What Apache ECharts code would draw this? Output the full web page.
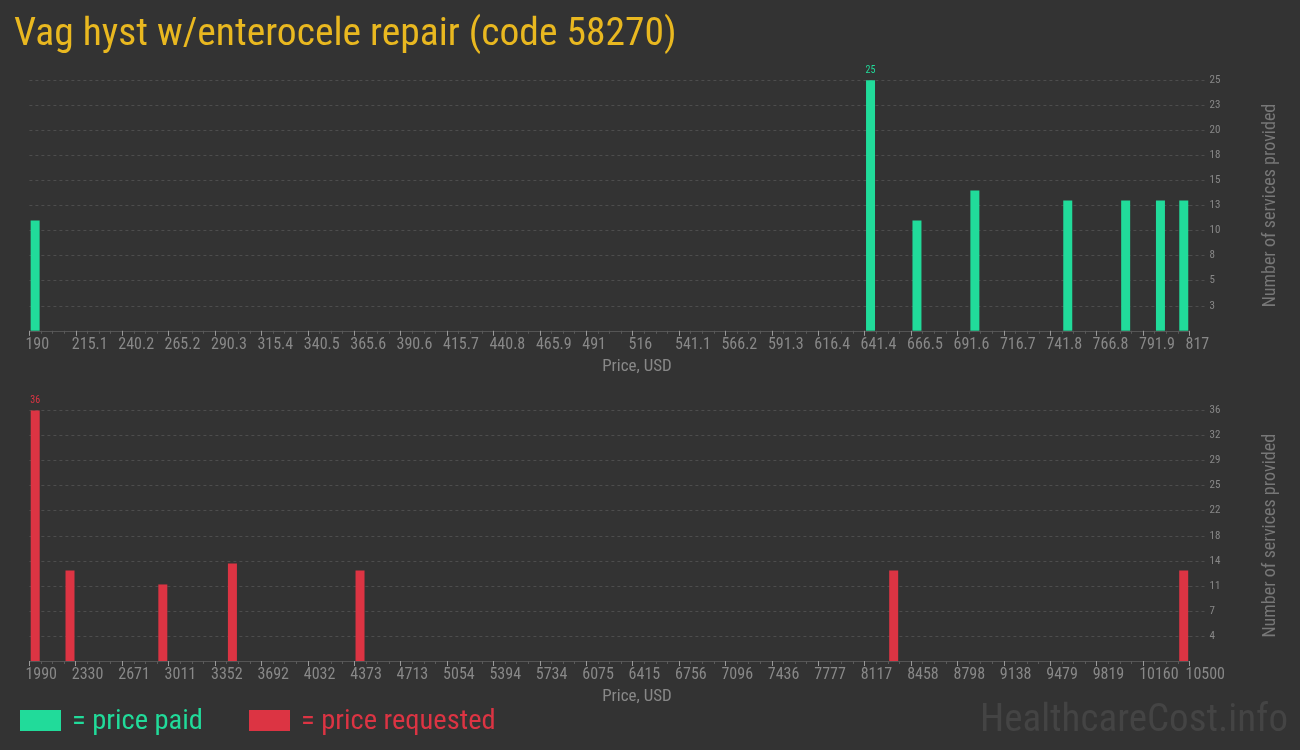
<!DOCTYPE html>
<html>
<head>
<meta charset="utf-8">
<script src="https://cdn.jsdelivr.net/npm/echarts@6/dist/echarts.min.js"></script>
<style>
  html, body { margin: 0; padding: 0; background: #333333; }
  #chart { width: 1300px; height: 750px; }
</style>
</head>
<body>
<div id="chart"></div>
<script>
// ---- data ----
const titleText = 'Vag hyst w/enterocele repair (code 58270)';

const paidTickLabels = ['190','215.1','240.2','265.2','290.3','315.4','340.5','365.6','390.6','415.7','440.8','465.9','491','516','541.1','566.2','591.3','616.4','641.4','666.5','691.6','716.7','741.8','766.8','791.9','817'];
const paidPrices = [193.1, 644.6, 669.7, 701.0, 751.2, 782.5, 801.3, 813.9];
const paidCounts = [11, 25, 11, 14, 13, 13, 13, 13];
const paidYMax = 25;
const paidYStep = 2.5;

const reqTickLabels = ['1990','2330','2671','3011','3352','3692','4032','4373','4713','5054','5394','5734','6075','6415','6756','7096','7436','7777','8117','8458','8798','9138','9479','9819','10160','10500'];
const reqPrices = [2032.6, 2287.9, 2968.7, 3479.3, 4415.4, 8330.0, 10457.4];
const reqCounts = [36, 13, 11, 14, 13, 13, 13];
const reqYMax = 36;
const reqYStep = 3.6;

// ---- styling ----
const BG = '#333333';
const GREEN = '#21db9a';
const RED = '#dc3443';
const GOLD = '#e9b820';
const NARROW = "'Roboto Condensed', 'Liberation Sans Narrow', 'DejaVu Sans Condensed', sans-serif";

const GRID_LEFT = 29.4;
const GRID_RIGHT = 110.5;
const GRID_H = 250.5;

function minorValues(labels) {
  const v = labels.map(Number);
  const out = [];
  for (let i = 0; i < v.length - 1; i++) {
    for (let k = 1; k < 4; k++) out.push(v[i] + (v[i + 1] - v[i]) * k / 4);
  }
  return out;
}

function barData(prices, counts, color) {
  const mx = Math.max.apply(null, counts);
  return prices.map((p, i) => ({
    value: [p, counts[i]],
    label: {
      show: counts[i] === mx,
      position: 'top',
      distance: 5,
      color: color,
      fontSize: 10,
      fontFamily: NARROW,
      formatter: String(counts[i])
    }
  }));
}

function xAxes(gridIndex, labels) {
  const major = labels.map(Number);
  const min = major[0], max = major[major.length - 1];
  return [
    {
      type: 'value', gridIndex: gridIndex, position: 'bottom',
      min: min, max: max,
      name: 'Price, USD', nameLocation: 'middle', nameGap: 27,
      nameTextStyle: { color: '#888', fontSize: 17, fontFamily: NARROW, padding: [0, 0, 0, 55] },
      axisLine: { show: true, lineStyle: { color: '#555', width: 1 } },
      axisTick: { show: true, customValues: major, length: 5, lineStyle: { color: '#999' } },
      axisLabel: {
        show: true, customValues: major, color: '#888', fontSize: 16, fontFamily: NARROW,
        align: 'left', padding: [0, 0, 0, -4], margin: 6,
        formatter: function (v) {
          const idx = major.indexOf(v);
          return idx >= 0 ? labels[idx] : '';
        }
      },
      splitLine: { show: false }
    },
    {
      type: 'value', gridIndex: gridIndex, position: 'bottom',
      min: min, max: max,
      axisLine: { show: false },
      axisTick: { show: true, customValues: minorValues(labels), length: 3, lineStyle: { color: '#5a5a5a' } },
      axisLabel: { show: false },
      splitLine: { show: false }
    }
  ];
}

function yAxis(gridIndex, maxV, step) {
  return {
    type: 'value', gridIndex: gridIndex, position: 'right',
    min: 0, max: maxV, interval: step,
    name: 'Number of services provided', nameLocation: 'middle', nameRotate: 90, nameGap: 72,
    nameTextStyle: { color: '#777', fontSize: 18, fontFamily: NARROW },
    axisLine: { show: false },
    axisTick: { show: true, length: 15, lineStyle: { color: '#4d4d4d', type: [3, 3] } },
    axisLabel: {
      show: true, showMinLabel: false, margin: 20, color: '#888', fontSize: 11, fontFamily: NARROW,
      formatter: function (v) { return v === 0 ? '' : String(Math.round(v)); }
    },
    splitLine: { show: true, lineStyle: { color: '#4d4d4d', type: [3, 3], width: 1 } }
  };
}

const chart = echarts.init(document.getElementById('chart'), null, { renderer: 'canvas' });

const option = {
  backgroundColor: BG,
  animation: false,
  title: {
    text: titleText, left: 9, top: 10,
    textStyle: { color: GOLD, fontSize: 39.5, fontWeight: 'normal', fontFamily: NARROW }
  },
  grid: [
    { left: GRID_LEFT, right: GRID_RIGHT, top: 80.3, height: GRID_H },
    { left: GRID_LEFT, right: GRID_RIGHT, top: 410.5, height: GRID_H }
  ],
  xAxis: xAxes(0, paidTickLabels).concat(xAxes(1, reqTickLabels)),
  yAxis: [yAxis(0, paidYMax, paidYStep), yAxis(1, reqYMax, reqYStep)],
  series: [
    {
      type: 'bar', xAxisIndex: 0, yAxisIndex: 0, barWidth: 9,
      itemStyle: { color: GREEN },
      data: barData(paidPrices, paidCounts, GREEN)
    },
    {
      type: 'bar', xAxisIndex: 2, yAxisIndex: 1, barWidth: 9,
      itemStyle: { color: RED },
      data: barData(reqPrices, reqCounts, RED)
    }
  ],
  graphic: [
    { type: 'rect', shape: { x: 20, y: 710, width: 41, height: 21 }, style: { fill: GREEN } },
    { type: 'text', x: 72, y: 722, style: { text: '= price paid', fill: GREEN, fontSize: 28.5, fontFamily: NARROW, verticalAlign: 'middle' } },
    { type: 'rect', shape: { x: 249, y: 710, width: 41, height: 21 }, style: { fill: RED } },
    { type: 'text', x: 301, y: 722, style: { text: '= price requested', fill: RED, fontSize: 28.5, fontFamily: NARROW, verticalAlign: 'middle' } },
    { type: 'text', x: 1288, y: 721, style: { text: 'HealthcareCost.info', fill: '#444444', fontSize: 39, fontFamily: NARROW, align: 'right', verticalAlign: 'middle' } }
  ]
};

chart.setOption(option);
</script>
</body>
</html>
